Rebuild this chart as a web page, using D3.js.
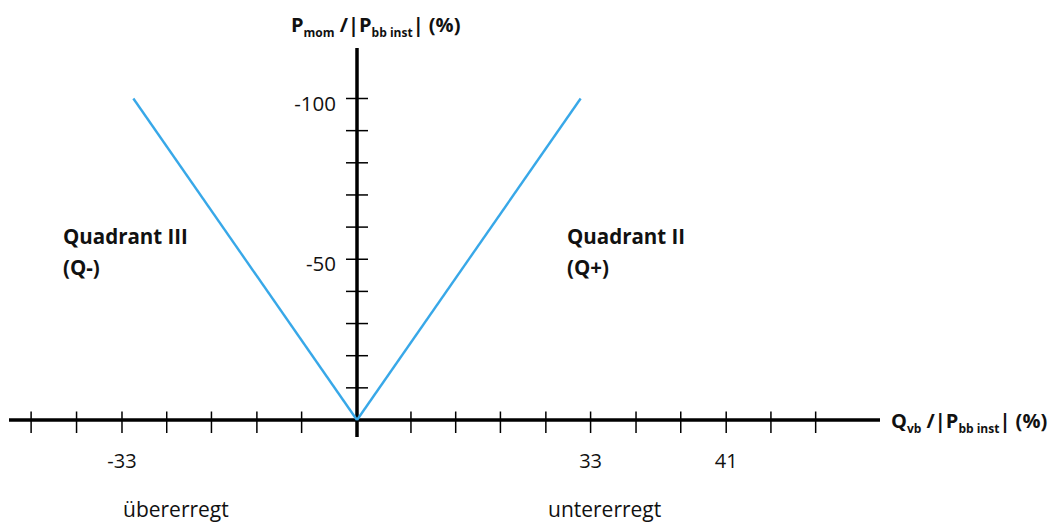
<!DOCTYPE html>
<html>
<head>
<meta charset="utf-8">
<script src="https://cdn.jsdelivr.net/npm/d3@7"></script>
<style>
  body { margin: 0; background: #fff; }
  text { font-family: "Open Sans", sans-serif; fill: #111; }
</style>
</head>
<body>
<svg id="chart" width="1048" height="522"></svg>
<script>
(function() {

// values (percent)
var xTickValues = [-45.9, -39.5, -33.1, -26.8, -20.5, -14.1, -7.8,
                   7.6, 13.9, 20.2, 26.6, 32.9, 39.3, 45.6, 52.0, 58.3, 64.6];
var xTickLabels = [{ v: -33.1, t: "-33" }, { v: 32.9, t: "33" }, { v: 52.0, t: "41" }];
var yTickValues = [-10, -20, -30, -40, -50, -60, -70, -80, -90, -100];
var yTickLabels = [-100, -50];
var quadrantIII = [[0, 0], [-31.5, -100]];
var quadrantII  = [[0, 0], [31.5, -100]];

var svg = d3.select("#chart");

// scales
var x = d3.scaleLinear().domain([0, 10]).range([357, 428]);
var y = d3.scaleLinear().domain([0, -100]).range([420, 98.5]);

// x axis line and ticks
svg.append("line")
  .attr("x1", 9).attr("x2", 880)
  .attr("y1", y(0)).attr("y2", y(0))
  .attr("stroke", "#000").attr("stroke-width", 3.5);

svg.selectAll(".xtick")
  .data(xTickValues)
  .enter()
  .append("line")
  .attr("class", "xtick")
  .attr("x1", function(d) { return x(d); })
  .attr("x2", function(d) { return x(d); })
  .attr("y1", y(0) - 8.5)
  .attr("y2", y(0) + 13)
  .attr("stroke", "#000")
  .attr("stroke-width", 1.5);

svg.selectAll(".xlab")
  .data(xTickLabels)
  .enter()
  .append("text")
  .attr("class", "xlab")
  .attr("x", function(d) { return x(d.v); })
  .attr("y", 468)
  .attr("text-anchor", "middle")
  .attr("font-size", "20px")
  .text(function(d) { return d.t; });

// y axis line and ticks
svg.append("line")
  .attr("x1", x(0)).attr("x2", x(0))
  .attr("y1", 48).attr("y2", 437)
  .attr("stroke", "#000").attr("stroke-width", 3.5);

svg.selectAll(".ytick")
  .data(yTickValues)
  .enter()
  .append("line")
  .attr("class", "ytick")
  .attr("x1", x(0) - 11)
  .attr("x2", x(0) + 11)
  .attr("y1", function(d) { return y(d); })
  .attr("y2", function(d) { return y(d); })
  .attr("stroke", "#000")
  .attr("stroke-width", 1.5);

svg.selectAll(".ylab")
  .data(yTickLabels)
  .enter()
  .append("text")
  .attr("class", "ylab")
  .attr("x", x(0) - 21)
  .attr("y", function(d) { return y(d) + 12; })
  .attr("text-anchor", "end")
  .attr("font-size", "20.5px")
  .text(function(d) { return d; });

// the two branches
var line = d3.line()
  .x(function(d) { return x(d[0]); })
  .y(function(d) { return y(d[1]); });

[quadrantIII, quadrantII].forEach(function(pts) {
  svg.append("path")
    .attr("d", line(pts))
    .attr("fill", "none")
    .attr("stroke", "#38a8e8")
    .attr("stroke-width", 2.4);
});

// axis titles
function axisTitle(px, py, main, sub, rest) {
  var t = svg.append("text")
    .attr("x", px).attr("y", py)
    .attr("font-size", "20px")
    .attr("font-weight", "bold");
  t.append("tspan").text(main);
  t.append("tspan").attr("font-size", "12px").attr("dy", 5).text(sub);
  t.append("tspan").attr("dy", -5).text(" /|P");
  t.append("tspan").attr("font-size", "12px").attr("dy", 5).text("bb inst");
  t.append("tspan").attr("dy", -5).text(rest);
}
axisTitle(291, 32, "P", "mom", "| (%)");
axisTitle(891, 428, "Q", "vb", "| (%)");

// quadrant labels
function twoLines(px, py, a, b) {
  var t = svg.append("text")
    .attr("x", px).attr("y", py)
    .attr("font-size", "20.5px")
    .attr("font-weight", "bold");
  t.append("tspan").attr("x", px).text(a);
  t.append("tspan").attr("x", px).attr("dy", 31).text(b);
}
twoLines(63, 244, "Quadrant III", "(Q-)");
twoLines(567, 244, "Quadrant II", "(Q+)");

// bottom notes
svg.append("text").attr("x", 123).attr("y", 517)
  .attr("font-size", "21px").text("übererregt");
svg.append("text").attr("x", 548).attr("y", 517)
  .attr("font-size", "21px").text("untererregt");

})();
</script>
</body>
</html>
